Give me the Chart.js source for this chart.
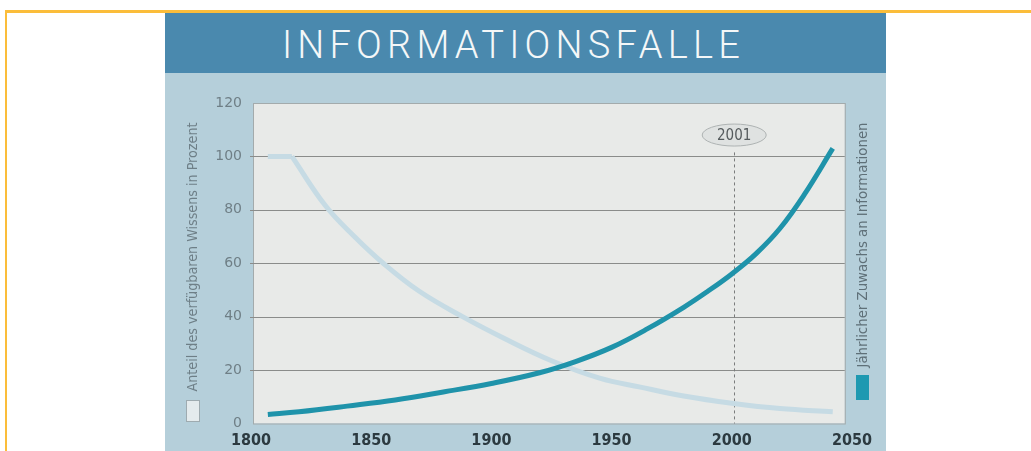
<!DOCTYPE html>
<html>
<head>
<meta charset="utf-8">
<script src="https://cdn.jsdelivr.net/npm/chart.js@4"></script>
<style>
  html, body { margin: 0; padding: 0; background: #ffffff; }
  body { width: 1031px; height: 451px; position: relative; overflow: hidden; }
  #frameTop { position: absolute; left: 5px; top: 10px; width: 1026px; height: 3px; background: #fbbd3a; }
  #frameLeft { position: absolute; left: 5px; top: 10px; width: 2px; height: 441px; background: #fbbd3a; }
  #panel { position: absolute; left: 165px; top: 13px; width: 721px; height: 438px; background: #b5cfda; }
  #titleBar { position: absolute; left: 0; top: 0; width: 721px; height: 60px; background: #4a89ae; }
  #title { position: absolute; left: 117px; top: 9px; color: #f4f7f8; font-family: Roboto, "DejaVu Sans", sans-serif;
           font-weight: 300; font-size: 38px; letter-spacing: 5.2px; line-height: 46px; white-space: nowrap; }
  #chartBox { position: absolute; left: 0; top: 60px; width: 721px; height: 378px; }
</style>
</head>
<body>
<div id="frameTop"></div>
<div id="frameLeft"></div>
<div id="panel">
  <div id="titleBar"><div id="title">INFORMATIONSFALLE</div></div>
  <div id="chartBox"><canvas id="infoChart" width="721" height="378"></canvas></div>
</div>
<script>
// Jährlicher Zuwachs an Informationen (teal)
let zuwachsYears = [1807, 1820, 1840, 1860, 1880, 1900, 1920, 1935, 1950, 1965, 1980, 1990, 2000, 2010, 2020, 2030, 2042];
let zuwachsValues = [3.4, 4.4, 6.5, 8.8, 11.8, 15, 19, 23.2, 28.5, 35.5, 43.5, 49.5, 56, 63.5, 73, 85.5, 103];

// Anteil des verfügbaren Wissens in Prozent (light), flat until 1817, then falling
let anteilYears = [1807, 1817, 1831, 1843, 1855, 1870, 1888, 1905, 1925, 1945, 1962, 1980, 2000, 2020, 2042];
let anteilValues = [100, 100, 81.5, 70, 60, 49.5, 40, 32, 23.5, 17, 13.6, 10.3, 7.6, 5.6, 4.4];
let anteilFlatEnd = 1; // index where the fall begins

let xTicks = [1800, 1850, 1900, 1950, 2000, 2050];
let yTicks = [0, 20, 40, 60, 80, 100, 120];
let markYear = 2001;
let plotEndYear = 2047;

let labelLeft = "Anteil des verfügbaren Wissens in Prozent";
let labelRight = "Jährlicher Zuwachs an Informationen";

let tealColor = '#1f93aa';
let lightColor = '#c6dbe4';

function toPoints(xs, ys, from, to) {
    let pts = [];
    for (let i = from; i <= to; i++) {
        pts.push({x: xs[i], y: ys[i]});
    }
    return pts;
}

// rotated text squeezed to a wanted length
function sideLabel(ctx, text, cx, cy, length, color) {
    ctx.save();
    ctx.font = '16px "Liberation Sans Narrow", "DejaVu Sans Condensed", sans-serif';
    let w = ctx.measureText(text).width;
    let size = 16 * length / w;
    ctx.font = size.toFixed(2) + 'px "Liberation Sans Narrow", "DejaVu Sans Condensed", sans-serif';
    ctx.fillStyle = color;
    ctx.textAlign = 'center';
    ctx.textBaseline = 'middle';
    ctx.translate(cx, cy);
    ctx.rotate(-Math.PI / 2);
    ctx.fillText(text, 0, 0);
    ctx.restore();
}

let decorPlugin = {
    id: 'decor',
    beforeDatasetsDraw(chart) {
        let ctx = chart.ctx;
        let x = chart.scales.x;
        let y = chart.scales.y;
        let left = x.getPixelForValue(1800) + 2;
        let right = x.getPixelForValue(plotEndYear);
        let top = y.getPixelForValue(120);
        let bottom = y.getPixelForValue(0);
        ctx.save();
        ctx.fillStyle = '#e8eae8';
        ctx.fillRect(left, top, right - left, bottom - top);
        ctx.strokeStyle = '#a3abac';
        ctx.lineWidth = 1;
        ctx.strokeRect(left + 0.5, top + 0.5, right - left, bottom - top);

        // horizontal grid lines
        ctx.strokeStyle = '#8a8c8a';
        ctx.lineWidth = 1.2;
        for (let i = 1; i < yTicks.length - 1; i++) {
            let py = Math.round(y.getPixelForValue(yTicks[i])) + 0.5;
            ctx.beginPath();
            ctx.moveTo(left - 3, py);
            ctx.lineTo(right, py);
            ctx.stroke();
        }

        // 2001 marker line
        let mx = Math.round(x.getPixelForValue(markYear)) + 0.5;
        ctx.strokeStyle = '#7a7c7c';
        ctx.lineWidth = 1;
        ctx.setLineDash([3, 3]);
        ctx.beginPath();
        ctx.moveTo(mx, y.getPixelForValue(101.5));
        ctx.lineTo(mx, bottom);
        ctx.stroke();
        ctx.setLineDash([]);
        ctx.restore();
    },
    afterDatasetsDraw(chart) {
        let ctx = chart.ctx;
        let x = chart.scales.x;
        let y = chart.scales.y;
        ctx.save();
        // 2001 bubble
        let cx = x.getPixelForValue(markYear);
        let cy = y.getPixelForValue(108);
        ctx.beginPath();
        ctx.ellipse(cx, cy, 32, 11, 0, 0, Math.PI * 2);
        ctx.fillStyle = '#dfe2e1';
        ctx.fill();
        ctx.strokeStyle = '#aeb3b3';
        ctx.lineWidth = 1;
        ctx.stroke();
        ctx.fillStyle = '#555b5d';
        ctx.font = '15px "DejaVu Sans Condensed", "DejaVu Sans", sans-serif';
        ctx.textAlign = 'center';
        ctx.textBaseline = 'middle';
        ctx.fillText(String(markYear), cx, cy + 1);
        ctx.restore();

        sideLabel(ctx, labelLeft, 28, 184, 269, '#6e7f87');
        sideLabel(ctx, labelRight, 698, 172, 245, '#5f7078');

        // legend squares
        ctx.save();
        ctx.fillStyle = '#e4ebed';
        ctx.fillRect(21, 327, 14, 22);
        ctx.strokeStyle = '#9eabb0';
        ctx.lineWidth = 1;
        ctx.strokeRect(21.5, 327.5, 13, 21);
        ctx.fillStyle = '#1e99b1';
        ctx.fillRect(691, 302, 13, 25);
        ctx.restore();
    }
};

let last = anteilYears.length - 1;
let chart = new Chart(document.getElementById('infoChart'), {
    type: 'line',
    data: {
        datasets: [
            {
                label: labelRight,
                data: toPoints(zuwachsYears, zuwachsValues, 0, zuwachsYears.length - 1),
                borderColor: tealColor,
                borderWidth: 5,
                pointRadius: 0,
                tension: 0.4,
                fill: false
            },
            {
                label: labelLeft,
                data: toPoints(anteilYears, anteilValues, anteilFlatEnd, last),
                borderColor: lightColor,
                borderWidth: 5,
                pointRadius: 0,
                tension: 0.4,
                fill: false
            },
            {
                label: labelLeft + ' (flat)',
                data: toPoints(anteilYears, anteilValues, 0, anteilFlatEnd),
                borderColor: lightColor,
                borderWidth: 5,
                pointRadius: 0,
                tension: 0,
                fill: false
            }
        ]
    },
    options: {
        responsive: false,
        animation: false,
        layout: {padding: {left: 0, right: 34, top: 30, bottom: 0}},
        plugins: {legend: {display: false}, tooltip: {enabled: false}},
        scales: {
            x: {
                type: 'linear',
                min: 1800,
                max: 2050,
                afterBuildTicks: function (scale) {
                    scale.ticks = xTicks.map(v => ({value: v}));
                },
                afterFit: function (scale) { scale.height = 27.5; },
                grid: {display: false, drawTicks: false},
                border: {display: false},
                ticks: {
                    padding: 8,
                    color: '#2c3a40',
                    font: {family: '"Liberation Sans Narrow", "DejaVu Sans Condensed", sans-serif', size: 16, weight: 'bold'},
                    maxRotation: 0,
                    callback: v => String(v)
                }
            },
            y: {
                min: 0,
                max: 120,
                afterBuildTicks: function (scale) {
                    scale.ticks = yTicks.map(v => ({value: v}));
                },
                afterFit: function (scale) { scale.width = 86; },
                grid: {display: false, drawTicks: false},
                border: {display: false},
                ticks: {
                    padding: 9,
                    color: '#6f7f86',
                    font: {family: '"DejaVu Sans", sans-serif', size: 14},
                    callback: v => String(v)
                }
            }
        }
    },
    plugins: [decorPlugin]
});
</script>
</body>
</html>
